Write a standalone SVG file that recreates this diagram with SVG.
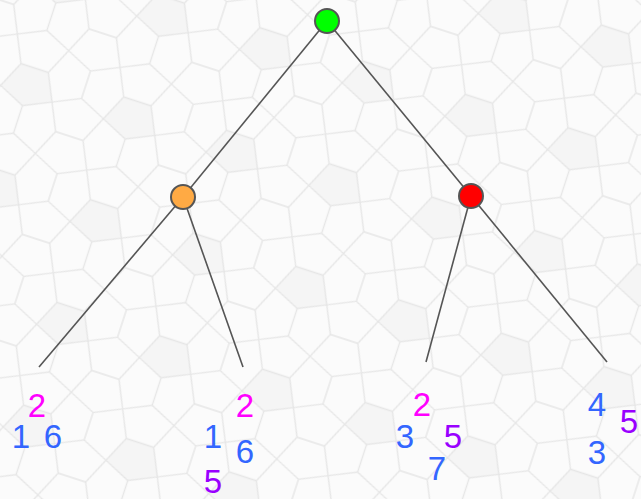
<svg xmlns="http://www.w3.org/2000/svg" width="641" height="499" viewBox="0 0 641 499">
<style>
.edge{stroke:#555;stroke-width:1.6;fill:none}
.node{stroke:#555;stroke-width:2}
.t{font-family:"Liberation Sans",Arial,sans-serif;font-size:33px;text-anchor:middle}
.m{fill:#ff00ff}.b{fill:#3366ff}.p{fill:#9900ff}
.tile{stroke:#e6e6e6;stroke-width:1.5;fill:none}
</style>
<defs>
<pattern id="cairo" width="120" height="120" patternUnits="userSpaceOnUse" patternTransform="rotate(18) scale(0.9)">
<rect width="120" height="120" fill="#fbfbfb"/>
<polygon points="44,60 76,60 90,90 60,104 30,90" fill="#f5f5f5"/>
<path class="tile" d="M16,0L30,30M60,16L30,30M0,44L30,30M44,60L30,30 M60,16L90,30M104,0L90,30M76,60L90,30M120,44L90,30 M0,76L30,90M44,60L30,90M16,120L30,90M60,104L30,90 M76,60L90,90M120,76L90,90M60,104L90,90M104,120L90,90 M0,0L16,0M104,0L120,0M0,120L16,120M104,120L120,120 M60,0L60,16M60,104L60,120 M0,44L0,76M120,44L120,76 M44,60L76,60"/>
</pattern>
</defs>
<rect width="641" height="499" fill="url(#cairo)"/>
<g id="connectors">
<line class="edge" x1="327" y1="21" x2="183" y2="197"/>
<line class="edge" x1="327" y1="21" x2="471" y2="196"/>
<line class="edge" x1="183" y1="197" x2="39" y2="367"/>
<line class="edge" x1="183" y1="197" x2="243" y2="367"/>
<line class="edge" x1="471" y1="196" x2="426" y2="362"/>
<line class="edge" x1="471" y1="196" x2="607" y2="362"/>
</g>
<g id="root"><circle class="node" cx="327" cy="21" r="12" fill="#00ff00"/></g>
<g id="orange"><circle class="node" cx="183" cy="197" r="12" fill="#ffaa44"/></g>
<g id="red"><circle class="node" cx="471" cy="196" r="12" fill="#ff0000"/></g>
<g id="leaf1">
<text class="t m" x="37" y="417">2</text>
<text class="t b" x="21" y="448">1</text>
<text class="t b" x="53" y="448">6</text>
</g>
<g id="leaf2">
<text class="t m" x="245" y="417">2</text>
<text class="t b" x="213" y="448">1</text>
<text class="t b" x="245" y="463">6</text>
<text class="t p" x="213" y="493">5</text>
</g>
<g id="leaf3">
<text class="t m" x="422" y="416">2</text>
<text class="t b" x="405" y="448">3</text>
<text class="t p" x="453" y="448">5</text>
<text class="t b" x="437" y="480">7</text>
</g>
<g id="leaf4">
<text class="t b" x="597" y="416">4</text>
<text class="t p" x="629" y="433">5</text>
<text class="t b" x="597" y="464">3</text>
</g>
</svg>
